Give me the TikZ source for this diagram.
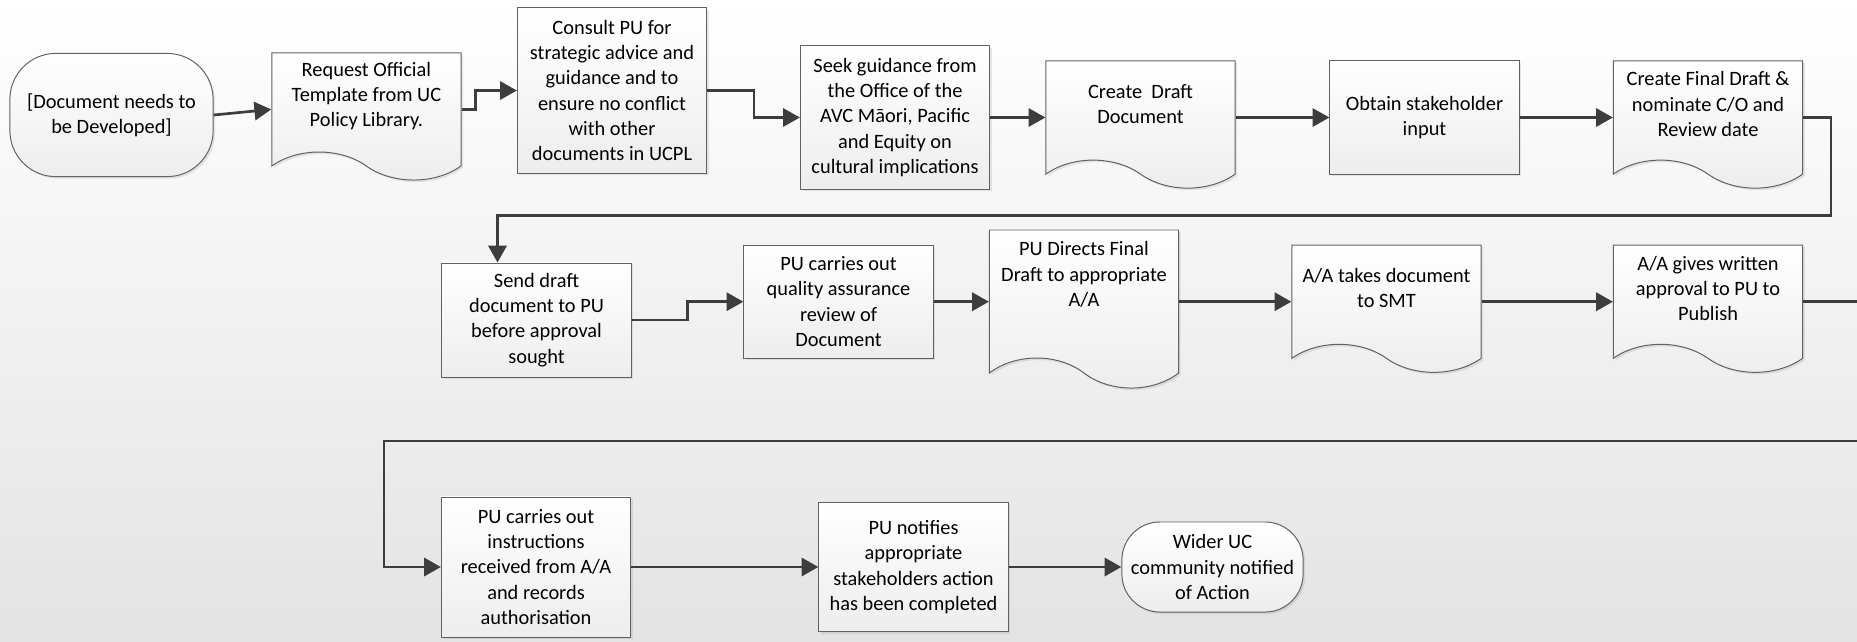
\documentclass[tikz,border=0pt]{standalone}
\usepackage{fontspec}
\setmainfont{Carlito}
\usepackage{tikz}
\usetikzlibrary{positioning,shapes.symbols,shadows,arrows.meta,calc}

\begin{document}
\begin{tikzpicture}[x=0.025cm, y=-0.025cm, line width=1.9pt, >={Triangle[length=12pt,width=13pt]},
    font=\fontsize{14.5}{18}\selectfont,
    box/.style={draw=black!62, line width=0.7pt, top color=white, bottom color=black!7,
        align=center, inner sep=1pt, minimum width=4.73cm,
        drop shadow={shadow xshift=1.5pt, shadow yshift=-1.5pt, opacity=0.18}},
    procBox/.style={box, rectangle},
    termBox/.style={box, rectangle, rounded corners=1.15cm},
    docBox/.style={box, tape, tape bend top=none, tape bend bottom=out and in,
        tape bend height=0.7cm, minimum height=3.18cm},
    docText/.style={align=center, yshift=0.16cm},
    flow/.style={->, black!76}]

    \useasboundingbox (0,0) rectangle (1857,641);
    \clip (0,0) rectangle (1857,641);
    \shade[top color=white, bottom color=black!11] (0,0) rectangle (1857,641);

    % first row
    \node[termBox, minimum width=5.08cm, minimum height=3.08cm] (start) at (111.5,115) {[Document needs to\\be Developed]};
    \node[docBox, label={[docText]center:{Request Official\\Template from UC\\Policy Library.}}] (reqTemplate) at (366.4,102.4) {};
    \node[procBox, minimum height=4.13cm] (consultPU) at (612,90.5) {Consult PU for\\strategic advice and\\guidance and to\\ensure no conflict\\with other\\documents in UCPL};
    \node[procBox, minimum height=3.58cm] (seekGuide) at (895,117.5) {Seek guidance from\\the Office of the\\AVC Māori, Pacific\\and Equity on\\cultural implications};
    \node[docBox, label={[docText]center:{Create~~Draft\\Document}}] (createDraft) at (1140.5,110.5) {};
    \node[procBox, minimum height=2.83cm] (obtainInput) at (1424.5,117.5) {Obtain stakeholder\\input};
    \node[docBox, label={[docText]center:{Create Final Draft \&\\nominate C/O and\\Review date}}] (finalDraft) at (1708,110.5) {};

    % second row
    \node[procBox, minimum height=2.85cm] (sendDraft) at (536.5,320) {Send draft\\document to PU\\before approval\\sought};
    \node[procBox, minimum height=2.83cm] (puReview) at (838.5,301.7) {PU carries out\\quality assurance\\review of\\Document};
    \node[docBox, minimum height=3.95cm, tape bend height=0.75cm, label={[docText, yshift=0.33cm]center:{PU Directs Final\\Draft to appropriate\\A/A}}] (puDirects) at (1084,294) {};
    \node[docBox, label={[docText]center:{A/A takes document\\to SMT}}] (aaTakes) at (1386.5,294.7) {};
    \node[docBox, label={[docText]center:{A/A gives written\\approval to PU to\\Publish}}] (aaGives) at (1708,294.7) {};

    % third row
    \node[procBox, minimum height=3.5cm] (puCarries) at (536,567) {PU carries out\\instructions\\received from A/A\\and records\\authorisation};
    \node[procBox, minimum height=3.23cm] (puNotifies) at (913.5,567) {PU notifies\\appropriate\\stakeholders action\\has been completed};
    \node[termBox, minimum width=4.53cm, minimum height=2.25cm, rounded corners=0.95cm] (widerUC) at (1212.5,567) {Wider UC\\community notified\\of Action};

    \draw[flow] (start.east) -- ($(reqTemplate.west)+(0,7)$);
    \draw[flow] ($(reqTemplate.east)+(0,7)$) -- ++(14,0) |- (consultPU.west);
    \draw[flow] (consultPU.east) -- ++(47,0) |- (seekGuide.west);
    \draw[flow] (seekGuide.east) -- (seekGuide.east -| createDraft.west);
    \draw[flow] (createDraft.east |- obtainInput.west) -- (obtainInput.west);
    \draw[flow] (obtainInput.east) -- (obtainInput.east -| finalDraft.west);
    \draw[flow] (finalDraft.east |- obtainInput.east) -- ++(28,0) |- ($(sendDraft.north)+(-39,-47)$) -- ($(sendDraft.north)+(-39,0)$);

    \draw[flow] (sendDraft.east) -- ++(56,0) |- (puReview.west);
    \draw[flow] (puReview.east) -- (puReview.east -| puDirects.west);
    \draw[flow] (puDirects.east |- puReview.east) -- (puReview.east -| aaTakes.west);
    \draw[flow] (aaTakes.east |- puReview.east) -- (puReview.east -| aaGives.west);
    \draw[flow] (aaGives.east |- puReview.east) -- ++(90,0) |- ($(puCarries.west)+(-57,-126)$) |- (puCarries.west);

    \draw[flow] (puCarries.east) -- (puNotifies.west);
    \draw[flow] (puNotifies.east) -- (widerUC.west);
\end{tikzpicture}
\end{document}
